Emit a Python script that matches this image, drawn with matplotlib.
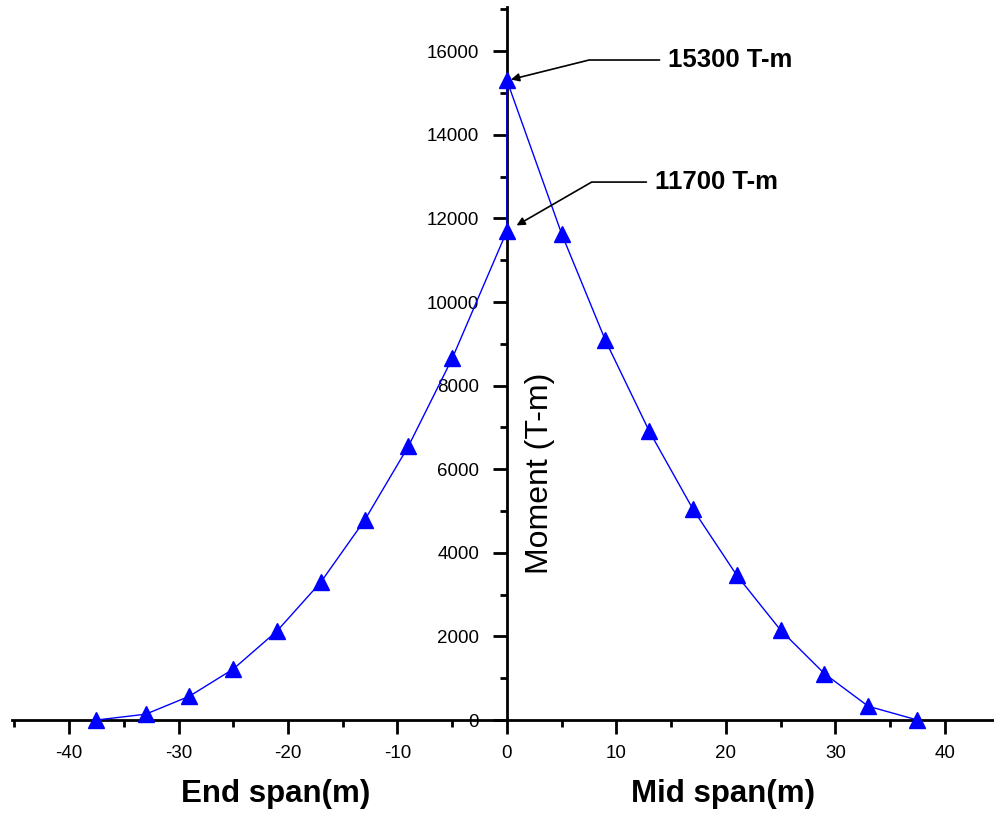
import matplotlib
matplotlib.use("Agg")
import matplotlib.pyplot as plt
import matplotlib.transforms as mtransforms
from matplotlib.ticker import MultipleLocator

# moment along the span: end span (negative x) then mid span (positive x)
x_end = [-37.5, -33, -29, -25, -21, -17, -13, -9, -5, 0]
m_end = [0, 140, 570, 1220, 2130, 3300, 4780, 6550, 8650, 11700]
x_mid = [0, 5, 9, 13, 17, 21, 25, 29, 33, 37.5]
m_mid = [15300, 11630, 9080, 6910, 5040, 3460, 2150, 1110, 330, 0]

x_all = x_end + x_mid
m_all = m_end + m_mid

plt.rcParams['font.family'] = ['Liberation Sans', 'DejaVu Sans']
plt.rcParams['axes.unicode_minus'] = False

fig = plt.figure(figsize=(9.94, 8.16), dpi=100)
ax = fig.add_axes([0.0122, 0.1176, 0.9868, 0.8734])

ax.plot(x_all, m_all, color='#0000ff', lw=1.0, marker='^', ms=12,
        markerfacecolor='#0000ff', markeredgecolor='#0000ff', clip_on=False, zorder=3)

ax.set_xlim(-45.2, 44.4)
ax.set_ylim(0, 17050)

ax.spines['left'].set_position(('data', 0))
ax.spines['top'].set_visible(False)
ax.spines['right'].set_visible(False)
for s in ['left', 'bottom']:
    ax.spines[s].set_linewidth(2.0)

ax.xaxis.set_major_locator(MultipleLocator(10))
ax.xaxis.set_minor_locator(MultipleLocator(5))
ax.yaxis.set_major_locator(MultipleLocator(2000))
ax.yaxis.set_minor_locator(MultipleLocator(1000))
ax.tick_params(axis='both', which='major', direction='out', length=10, width=2.0,
               labelsize=13.5, colors='black')
ax.tick_params(axis='both', which='minor', direction='out', length=5, width=2.0)
ax.tick_params(axis='x', which='major', pad=8)
ax.tick_params(axis='y', which='major', pad=10)

# axis titles
trans = mtransforms.blended_transform_factory(ax.transData, ax.transAxes)
ax.text(-21.1, -0.104, 'End span(m)', transform=trans, ha='center', va='center',
        fontsize=22.5, fontweight='bold')
ax.text(19.7, -0.104, 'Mid span(m)', transform=trans, ha='center', va='center',
        fontsize=22.5, fontweight='bold')
ax.text(3.0, 5900, 'Moment (T-m)', rotation=90, ha='center', va='center', fontsize=23)

# peak annotations
ax.annotate('15300 T-m', xy=(0, 15300), xytext=(14.7, 15790),
            ha='left', va='center', fontsize=18.5, fontweight='bold',
            arrowprops=dict(arrowstyle='-|>', color='black', lw=1.2,
                            connectionstyle='angle,angleA=0,angleB=14,rad=0',
                            relpos=(0, 0.5), shrinkA=4, shrinkB=3,
                            mutation_scale=12))
ax.annotate('11700 T-m', xy=(0, 11700), xytext=(13.5, 12870),
            ha='left', va='center', fontsize=18.5, fontweight='bold',
            arrowprops=dict(arrowstyle='-|>', color='black', lw=1.2,
                            connectionstyle='angle,angleA=0,angleB=30,rad=0',
                            relpos=(0, 0.5), shrinkA=4, shrinkB=8,
                            mutation_scale=12))

fig.savefig('out.png', dpi=100)
